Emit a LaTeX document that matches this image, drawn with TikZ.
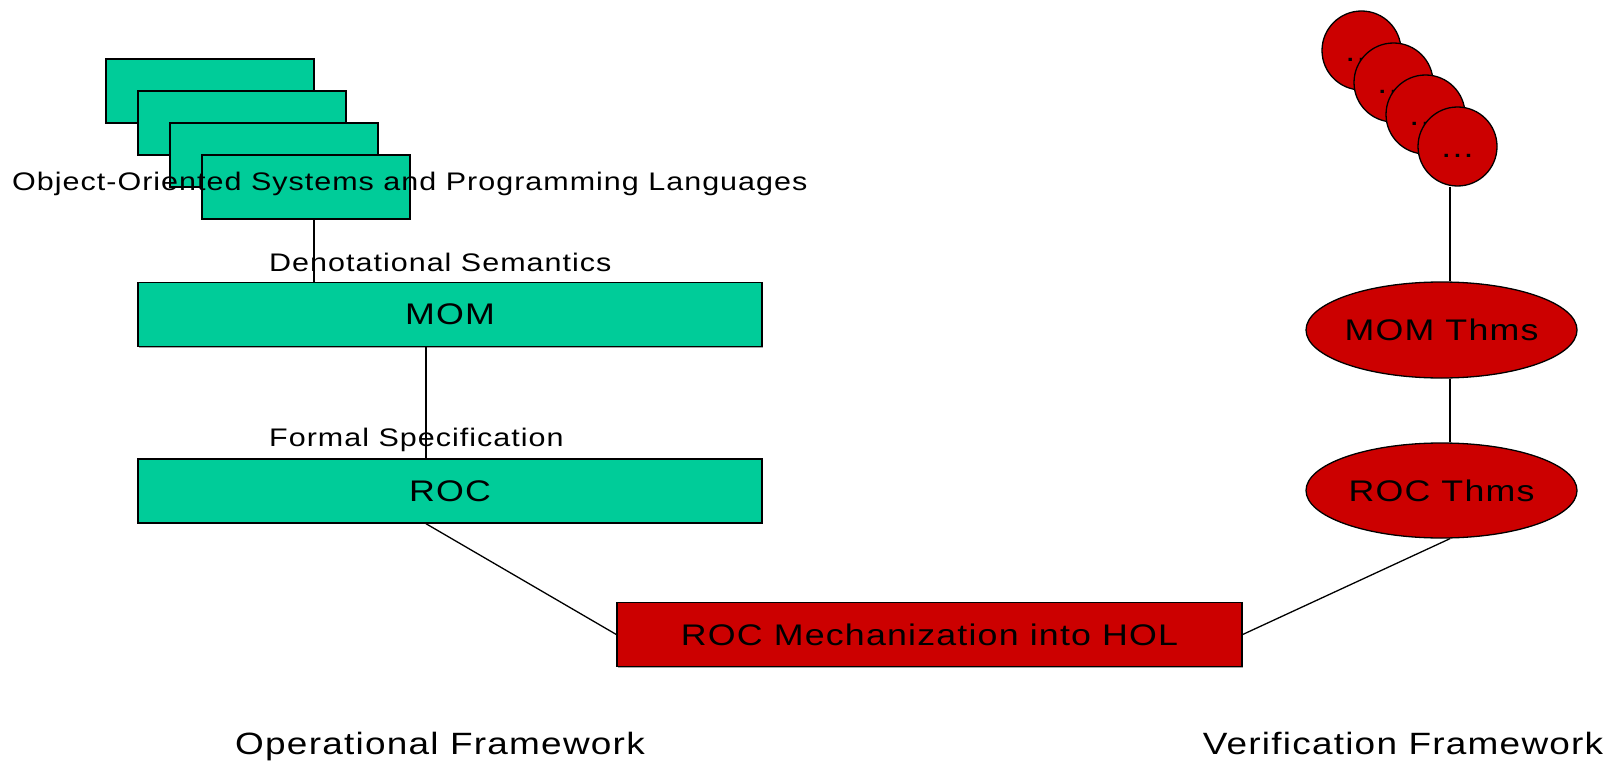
\documentclass[tikz,border=0pt]{standalone}
\usepackage{fontspec}
\newfontfamily\lblfont{Liberation Sans}[FakeStretch=1.2, LetterSpace=4]
\usetikzlibrary{shapes.geometric,shadows}

\definecolor{boxgreen}{RGB}{0,204,153}
\definecolor{thmred}{RGB}{204,0,0}

\begin{document}
\begin{tikzpicture}[x=1pt,y=-1pt,
  smalltext/.style={font=\lblfont\fontsize{25.4}{30}\selectfont, inner sep=0pt, text=black},
  bigtext/.style={font=\lblfont\fontsize{29.8}{34}\selectfont, inner sep=0pt, text=black},
  captiontext/.style={font=\lblfont\fontsize{30.8}{35}\selectfont, inner sep=0pt, text=black},
  boxshadow/.style={drop shadow={shadow xshift=1.2pt, shadow yshift=-1.2pt, fill=black!35, opacity=1}},
  langbox/.style={draw=black, line width=1.4pt, fill=boxgreen, inner sep=0pt,
    minimum width=208pt, minimum height=64pt, boxshadow},
  layerbox/.style={draw=black, line width=1.4pt, fill=boxgreen, inner sep=0pt,
    minimum width=624pt, minimum height=64pt, boxshadow, bigtext},
  holbox/.style={draw=black, line width=1.4pt, fill=thmred, inner sep=0pt,
    minimum width=625pt, minimum height=64pt, boxshadow, bigtext},
  thm/.style={ellipse, draw=black, line width=1.3pt, fill=thmred, inner sep=0pt,
    minimum width=271pt, minimum height=96pt},
  thmdot/.style={circle, draw=black, line width=1.3pt, fill=thmred, inner sep=0pt,
    minimum size=79pt},
  conn/.style={draw=black, line width=1.3pt}]

\fill[white] (0,0) rectangle (1616,762);
\useasboundingbox (0,0) rectangle (1616,762);

% stack of object-oriented languages
\node[langbox] (b1) at (210,91) {};
\node[langbox] (b2) at (242,123) {};
\node[langbox] (b3) at (274,155) {};
\node[langbox] (b4) at (306,187) {};
\node[smalltext, anchor=base west] (oosys) at (12,191) {Object-Oriented Systems and Programming Languages};

% operational layers
\node[layerbox] (mom) at (450,314.5) {MOM};
\node[layerbox] (roc) at (450,491) {ROC};
\node[smalltext, anchor=base west] (densem) at (269,271) {Denotational Semantics};
\node[smalltext, anchor=base west] (formspec) at (269,446) {Formal Specification};

% mechanization
\node[holbox] (hol) at (929.5,634.5) {ROC Mechanization into HOL};

% theorem chain
\node[thmdot] (c1) at (1361.5,50.5) {};
\node[bigtext, anchor=base] (d1) at ([yshift=-11pt]c1.center) {...};
\node[thmdot] (c2) at (1393.5,82.5) {};
\node[bigtext, anchor=base] (d2) at ([yshift=-11pt]c2.center) {...};
\node[thmdot] (c3) at (1425.5,114.5) {};
\node[bigtext, anchor=base] (d3) at ([yshift=-11pt]c3.center) {...};
\node[thmdot] (c4) at (1457.5,146.5) {};
\node[bigtext, anchor=base] (d4) at ([yshift=-11pt]c4.center) {...};

\node[thm, label={[bigtext]center:MOM Thms}] (momthm) at (1441.5,330) {};
\node[thm, minimum height=95pt, label={[bigtext]center:ROC Thms}] (rocthm) at (1441.5,490.5) {};

% framework captions
\node[captiontext, anchor=base] (opfw) at (440,754) {Operational Framework};
\node[captiontext, anchor=base] (verfw) at (1403,754) {Verification Framework};

% connectors
\coordinate (j1) at ([xshift=8pt]b4.south);
\coordinate (j2) at ([xshift=-24pt]mom.south);
\coordinate (j3) at ([xshift=-24pt]roc.south);
\coordinate (vx) at (1450,0);

\draw[conn] (j1) -- (j1 |- mom.north);
\draw[conn] (j2) -- (j2 |- roc.north);
\draw[conn] (j3) -- (hol.west);
\draw[conn] (hol.east) -- (vx |- rocthm.south);
\draw[conn] (vx |- c4.south) -- (vx |- momthm.north);
\draw[conn] (vx |- momthm.south) -- (vx |- rocthm.north);

\end{tikzpicture}
\end{document}
